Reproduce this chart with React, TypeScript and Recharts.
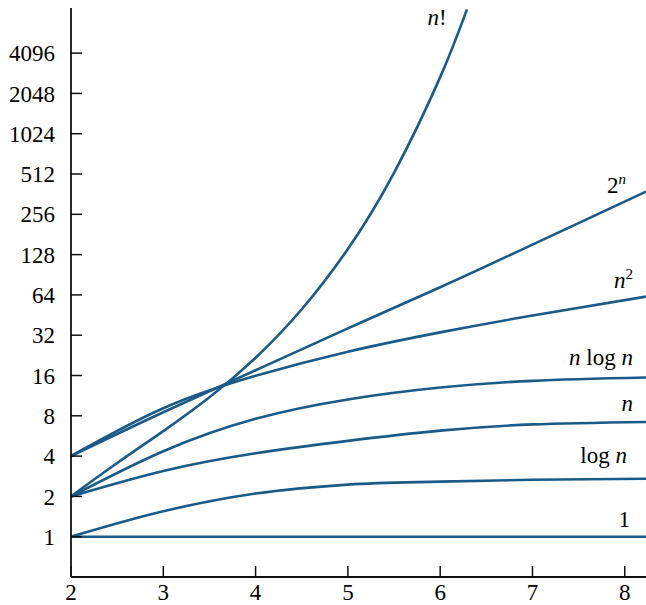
import React from "react";
import { LineChart, Line, XAxis, YAxis } from "recharts";

// n values shared by the smooth curves
const N_GRID = [2, 3, 4, 5, 6, 7, 8.23];
const ONE = [1, 1, 1, 1, 1, 1, 1];
const LOG_N = [1, 1.55, 2.1, 2.45, 2.58, 2.66, 2.71];
const N_LIN = [2, 3.1, 4.2, 5.2, 6.2, 6.9, 7.2];
const N_LOG_N = [2, 4.35, 7.6, 10.6, 13.0, 14.6, 15.45];
const N_SQ = [4, 9.1, 15.9, 24.1, 33.6, 44.9, 62.2];
const TWO_N = [4, 8.5, 17.5, 36, 73, 152, 378];

// n! climbs out of the top, so it gets its own points
const FACT_N = [2, 2.5, 3, 3.5, 4, 4.5, 5, 5.5, 6, 6.29];
const FACT_V = [2, 3.55, 6.15, 11, 21.7, 50, 141, 523, 2710, 8700];

const X_TICKS = [2, 3, 4, 5, 6, 7, 8];
const Y_TICKS = [1, 2, 4, 8, 16, 32, 64, 128, 256, 512, 1024, 2048, 4096];

const rows = N_GRID.map((n, i) => ({
  n,
  one: ONE[i],
  logn: LOG_N[i],
  lin: N_LIN[i],
  nlogn: N_LOG_N[i],
  sq: N_SQ[i],
  exp: TWO_N[i],
}));
const factRows = FACT_N.map((n, i) => ({ n, fact: FACT_V[i] }));

const BLUE = "#1a5a88";
const FONT = '"Liberation Serif", "Times New Roman", serif';

export default function App() {
  const lineProps = {
    type: "natural" as const,
    stroke: BLUE,
    strokeWidth: 2.6,
    dot: false,
    activeDot: false,
    isAnimationActive: false,
  };
  const tick = { fill: "#000", fontSize: 23, fontFamily: FONT };
  const lab = { fontFamily: FONT, fontSize: 23, fill: "#000" };

  return (
    <div style={{ position: "absolute", left: 0, top: 0, width: 646, height: 605, background: "#fff" }}>
      <LineChart
        width={646}
        height={605}
        data={rows}
        margin={{ top: 8, right: 0, left: 0, bottom: 0 }}
      >
        <XAxis
          dataKey="n"
          type="number"
          domain={[2, 8.23]}
          ticks={X_TICKS}
          allowDataOverflow
          height={28}
          tickSize={-11}
          tickMargin={18}
          tick={tick}
          axisLine={{ stroke: "#111", strokeWidth: 1.8 }}
          tickLine={{ stroke: "#111", strokeWidth: 1.5 }}
        />
        <YAxis
          type="number"
          scale="log"
          domain={[0.5, 8900]}
          ticks={Y_TICKS}
          allowDataOverflow
          width={71}
          tickSize={-11}
          tickMargin={27}
          tick={tick}
          interval={0}
          axisLine={{ stroke: "#111", strokeWidth: 1.8 }}
          tickLine={{ stroke: "#111", strokeWidth: 1.5 }}
        />
        <Line {...lineProps} type="monotone" dataKey="one" />
        <Line {...lineProps} type="monotone" dataKey="logn" />
        <Line {...lineProps} dataKey="lin" />
        <Line {...lineProps} dataKey="nlogn" />
        <Line {...lineProps} dataKey="sq" />
        <Line {...lineProps} dataKey="exp" />
        <Line {...lineProps} data={factRows} dataKey="fact" />
      </LineChart>
      <svg width={646} height={605} style={{ position: "absolute", left: 0, top: 0, pointerEvents: "none" }}>
        <text x={437} y={25} textAnchor="middle" {...lab}>
          <tspan fontStyle="italic">n</tspan>!
        </text>
        <text x={626} y={193} textAnchor="end" {...lab}>
          2<tspan fontStyle="italic" fontSize={15} dy={-9}>n</tspan>
        </text>
        <text x={633} y={288} textAnchor="end" {...lab}>
          <tspan fontStyle="italic">n</tspan>
          <tspan fontSize={15} dy={-9}>2</tspan>
        </text>
        <text x={633} y={365} textAnchor="end" {...lab}>
          <tspan fontStyle="italic">n</tspan> log <tspan fontStyle="italic">n</tspan>
        </text>
        <text x={633} y={411} textAnchor="end" {...lab}>
          <tspan fontStyle="italic">n</tspan>
        </text>
        <text x={627} y={463} textAnchor="end" {...lab}>
          log <tspan fontStyle="italic">n</tspan>
        </text>
        <text x={630} y={527} textAnchor="end" {...lab}>
          1
        </text>
      </svg>
    </div>
  );
}
